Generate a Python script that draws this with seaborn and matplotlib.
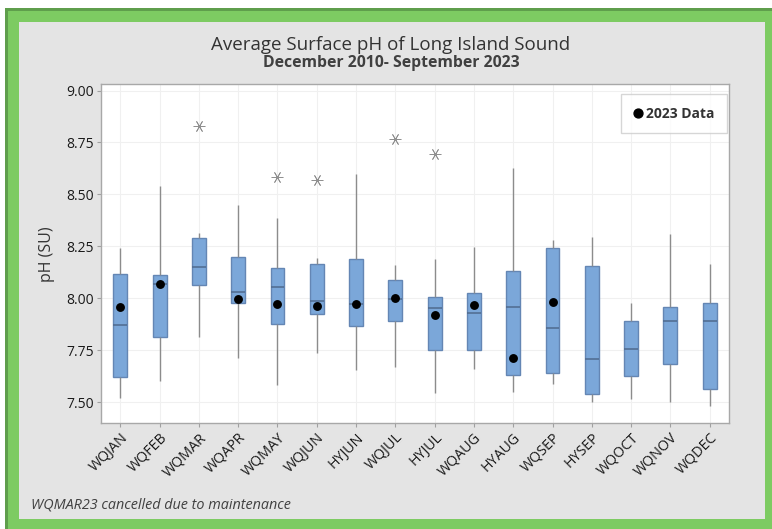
import numpy as np
import pandas as pd
import matplotlib
matplotlib.use("Agg")
import matplotlib.pyplot as plt
from matplotlib.patches import Rectangle
from matplotlib.lines import Line2D
import seaborn as sns

nan = np.nan
categories = ["WQJAN", "WQFEB", "WQMAR", "WQAPR", "WQMAY", "WQJUN", "HYJUN", "WQJUL",
              "HYJUL", "WQAUG", "HYAUG", "WQSEP", "HYSEP", "WQOCT", "WQNOV", "WQDEC"]
whisker_low = [7.52, 7.60, 7.815, 7.71, 7.58, 7.735, 7.655, 7.67,
               7.545, 7.66, 7.55, 7.585, 7.50, 7.515, 7.50, 7.48]
q1 = [7.623, 7.812, 8.064, 7.976, 7.876, 7.926, 7.867, 7.892,
      7.75, 7.75, 7.629, 7.639, 7.538, 7.626, 7.685, 7.564]
median = [7.871, 8.07, 8.149, 8.029, 8.053, 7.986, 7.973, 7.998,
          7.955, 7.931, 7.957, 7.856, 7.706, 7.758, 7.889, 7.892]
q3 = [8.115, 8.111, 8.292, 8.20, 8.144, 8.164, 8.188, 8.087,
      8.008, 8.027, 8.131, 8.24, 8.157, 7.889, 7.957, 7.977]
whisker_high = [8.24, 8.54, 8.316, 8.449, 8.388, 8.196, 8.597, 8.159,
                8.191, 8.248, 8.628, 8.279, 8.294, 7.977, 8.309, 8.165]
outliers = [nan, nan, 8.831, nan, 8.585, 8.569, nan, 8.767,
            8.693, nan, nan, nan, nan, nan, nan, nan]
data_2023 = [7.96, 8.069, nan, 7.997, 7.973, 7.963, 7.974, 8.003,
             7.92, 7.968, 7.714, 7.981, nan, nan, nan, nan]
yticks = [7.50, 7.75, 8.00, 8.25, 8.50, 8.75, 9.00]

# long table for seaborn: five summary points per category
rows = []
for i, c in enumerate(categories):
    for v in (whisker_low[i], q1[i], median[i], q3[i], whisker_high[i]):
        rows.append({"site": c, "ph": v})
df = pd.DataFrame(rows)

sns.set_theme(style="white")
plt.rcParams["font.family"] = ["Open Sans", "DejaVu Sans"]

W, H = 772, 529
fig = plt.figure(figsize=(W / 100, H / 100), dpi=100, facecolor="white")

def frect(x0, y0, x1, y1, color, z):
    # pixel coords (top-left origin) -> figure fraction
    fig.patches.append(Rectangle((x0 / W, 1 - y1 / H), (x1 - x0) / W, (y1 - y0) / H,
                                 transform=fig.transFigure, facecolor=color,
                                 edgecolor="none", zorder=z))

frect(5, 8, W, H, "#5f9e4c", -3)
frect(8, 11, W, H, "#7dcb62", -2)
frect(19, 22, 765, 519, "#e4e4e4", -1)

ax = fig.add_axes([100.7 / W, 1 - 423.3 / H, 628.6 / W, 339.0 / H])
ax.set_facecolor("white")

sns.boxplot(data=df, x="site", y="ph", order=categories, whis=(0, 100),
            width=0.35, color="#7ba7d9", saturation=1, showfliers=False,
            showcaps=False, linewidth=1, ax=ax,
            boxprops=dict(edgecolor="#6486b4", linewidth=1),
            whiskerprops=dict(color="#8c8c8c", linewidth=1),
            medianprops=dict(color="#4f6a8e", linewidth=1.1))

sns.stripplot(x=categories, y=outliers, order=categories, jitter=False,
              marker=(6, 2, 90), color="#909090", size=8, linewidth=0.6, ax=ax)
sns.stripplot(x=categories, y=data_2023, order=categories, jitter=False,
              color="black", size=6.4, linewidth=0, ax=ax, zorder=5)

ax.set_xlim(-0.5, len(categories) - 0.5)
ax.set_ylim(7.398, 9.03)
ax.set_yticks(yticks)
ax.set_yticklabels([f"{t:.2f}" for t in yticks], fontsize=10, color="#1a1a1a")
ax.set_xticks(range(len(categories)))
ax.set_xticklabels(categories, rotation=45, ha="right", rotation_mode="anchor",
                   fontsize=10.3, color="#1a1a1a")
ax.tick_params(axis="both", which="major", length=3, width=0.8, color="#a0a0a0",
               bottom=True, left=True, pad=2)
ax.grid(True, color="#f0f0f0", linewidth=0.8)
ax.set_axisbelow(True)
for s in ax.spines.values():
    s.set_color("#a8a8a8")
    s.set_linewidth(1)
ax.set_xlabel("")
ax.set_ylabel("pH (SU)", fontsize=11.5, color="#333333", labelpad=8)

handle = Line2D([], [], marker="o", color="black", linestyle="", markersize=6.4)
leg = ax.legend([handle], ["2023 Data"], loc="upper right",
                bbox_to_anchor=(0.996, 0.971), borderaxespad=0, fancybox=False,
                frameon=True, edgecolor="#cccccc", handlelength=0.6,
                handletextpad=0.3, borderpad=0.9,
                prop=dict(weight="bold", size=10))
leg.get_frame().set_linewidth(1)
for t in leg.get_texts():
    t.set_color("#333333")

fig.text(391 / W, 1 - 45 / H, "Average Surface pH of Long Island Sound",
         ha="center", va="center", fontsize=13.5, color="#333333")
fig.text(391 / W, 1 - 63 / H, "December 2010- September 2023",
         ha="center", va="center", fontsize=11.3, weight="bold", color="#404040")
fig.text(31 / W, 1 - 505 / H, "WQMAR23 cancelled due to maintenance",
         ha="left", va="center", fontsize=10.4, style="italic", color="#404040")

fig.savefig("out.png", dpi=100, facecolor=fig.get_facecolor())
